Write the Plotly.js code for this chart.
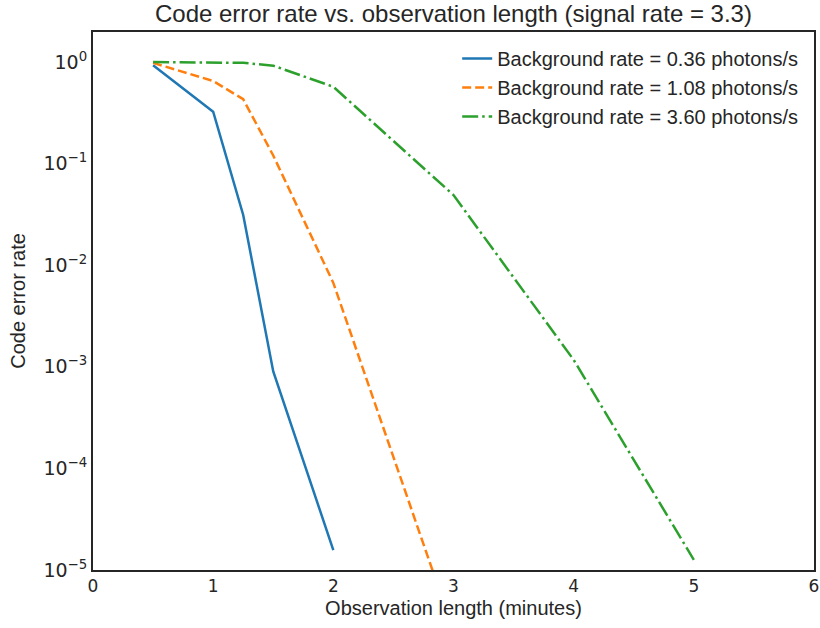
<!DOCTYPE html>
<html>
<head>
<meta charset="utf-8">
<script src="https://cdn.plot.ly/plotly-3.0.1.min.js"></script>
<style>html,body{margin:0;padding:0;background:#fff;}</style>
</head>
<body>
<div id="chart" style="width:820px;height:628px;"></div>
<script>
// Observation length (minutes)
const minutes = [0.5, 1, 1.25, 1.5, 2, 3, 4, 5];
// Code error rate for each background rate
const rateBg036 = [0.93, 0.324, 0.0312, 0.0009, 0.0000157, null, null, null];
const rateBg108 = [0.98, 0.65, 0.43, 0.12, 0.0067, 0.0000025, null, null];
const rateBg360 = [1.0, 0.99, 0.98, 0.92, 0.57, 0.049, 0.00117, 0.0000126];
const seriesNames = [
  "Background rate = 0.36 photons/s",
  "Background rate = 1.08 photons/s",
  "Background rate = 3.60 photons/s"
];
const yTickVals = [1, 0.1, 0.01, 0.001, 0.0001, 0.00001];
const yTickText = ["10<sup>0</sup>", "10<sup>\u22121</sup>", "10<sup>\u22122</sup>", "10<sup>\u22123</sup>", "10<sup>\u22124</sup>", "10<sup>\u22125</sup>"];
const xTickVals = [0, 1, 2, 3, 4, 5, 6];

const traces = [
  {x: minutes, y: rateBg036, name: seriesNames[0], legendgroup: "a", mode: "lines",
   line: {color: "#1f77b4", width: 2.5, dash: "solid"}},
  {x: minutes, y: rateBg108, name: seriesNames[1], legendgroup: "b", mode: "lines",
   line: {color: "#ff7f0e", width: 2.5, dash: "9px,4px"}},
  {x: minutes, y: rateBg360, name: seriesNames[2], legendgroup: "c", mode: "lines",
   line: {color: "#2ca02c", width: 2.5, dash: "16px,4px,2.5px,4px"}}
];

const layout = {
  width: 820, height: 628,
  margin: {l: 93, r: 6, t: 32, b: 58},
  paper_bgcolor: "#ffffff", plot_bgcolor: "#ffffff",
  font: {family: "Liberation Sans, Arial, sans-serif", color: "#262626"},
  title: {text: "Code error rate vs. observation length (signal rate = 3.3)",
          font: {family: "Liberation Sans, Arial, sans-serif", size: 24, color: "#262626"},
          x: 0.553, xanchor: "center", y: 0.978, yanchor: "middle"},
  showlegend: true,
  legend: {x: 0.985, xanchor: "right", y: 0.987, yanchor: "top",
           bgcolor: "rgba(255,255,255,0)", borderwidth: 0,
           font: {family: "Liberation Sans, Arial, sans-serif", size: 20, color: "#262626"},
           traceorder: "grouped", tracegroupgap: 0},
  xaxis: {range: [0, 6], tickvals: xTickVals, ticks: "", showgrid: false, zeroline: false,
          showline: true, mirror: true, linecolor: "#262626", linewidth: 2,
          tickfont: {family: "DejaVu Sans, sans-serif", size: 17, color: "#262626"},
          title: {text: "Observation length (minutes)", standoff: 6,
                  font: {family: "Liberation Sans, Arial, sans-serif", size: 20, color: "#262626"}}},
  yaxis: {type: "log", range: [-5, 0.295], tickvals: yTickVals, ticktext: yTickText,
          ticks: "", showgrid: false, zeroline: false,
          showline: true, mirror: true, linecolor: "#262626", linewidth: 2,
          tickfont: {family: "DejaVu Sans, sans-serif", size: 19, color: "#262626"},
          title: {text: "Code error rate", standoff: 12,
                  font: {family: "Liberation Sans, Arial, sans-serif", size: 20, color: "#262626"}}}
};

Plotly.newPlot("chart", traces, layout, {displayModeBar: false, staticPlot: true});
</script>
</body>
</html>
